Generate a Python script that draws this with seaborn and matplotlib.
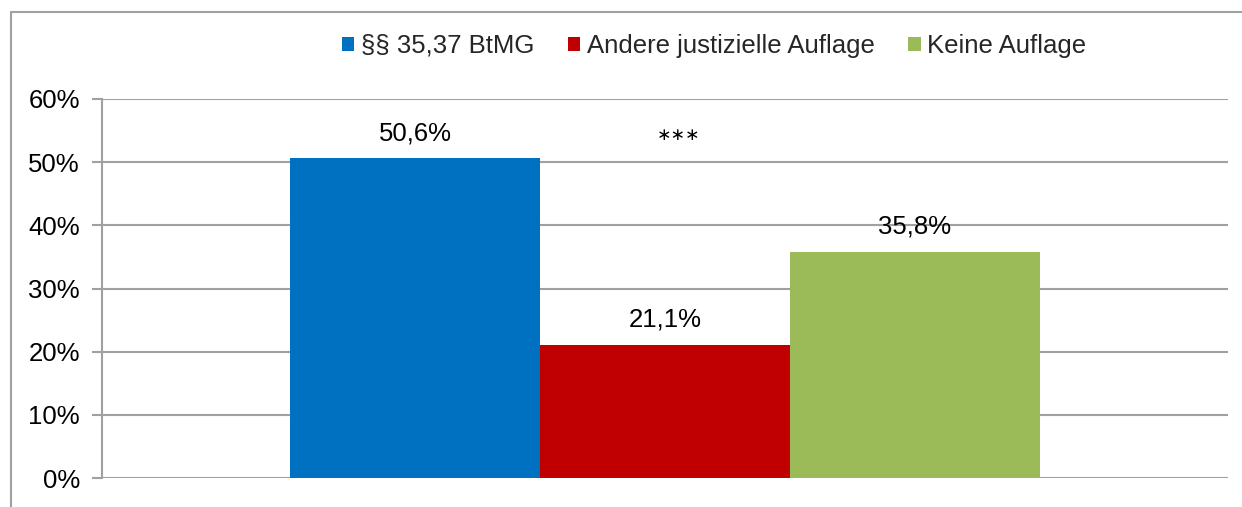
import matplotlib
matplotlib.use("Agg")
import matplotlib.pyplot as plt
import seaborn as sns
import pandas as pd
from matplotlib.lines import Line2D

series = ["§§ 35,37 BtMG", "Andere justizielle Auflage", "Keine Auflage"]
values = [50.6, 21.1, 35.8]
colors = ["#0070C0", "#C00000", "#9BBB59"]
yticks = [0, 10, 20, 30, 40, 50, 60]
signif = "∗∗∗"

sns.set_theme(style="white")
plt.rcParams['font.family'] = ['Liberation Sans', 'DejaVu Sans']

df = pd.DataFrame({"cat": ["A"] * 3, "series": series, "value": values})

fig = plt.figure(figsize=(12.42, 5.07), dpi=100)
ax = fig.add_axes([102 / 1242, 1 - 478 / 507, (1228 - 102) / 1242, (478 - 99) / 507])

sns.barplot(data=df, x="cat", y="value", hue="series", hue_order=series,
            palette=colors, width=0.666, gap=0, dodge=True, ax=ax,
            saturation=1, legend=True, errorbar=None, linewidth=0)

ax.set_xlim(-0.5, 0.5)
ax.set_ylim(0, 60)
ax.set_yticks(yticks)
ax.set_yticklabels([f"{t}%" for t in yticks], fontsize=18.5)
ax.set_xticks([])
ax.set_xlabel("")
ax.set_ylabel("")
ax.yaxis.grid(True, color="#A0A0A0", linewidth=1.5)
ax.set_axisbelow(True)
for s in ["top", "right", "bottom"]:
    ax.spines[s].set_visible(False)
ax.spines["left"].set_color("#A0A0A0")
ax.spines["left"].set_linewidth(1.5)
ax.tick_params(axis="y", which="major", length=7, width=1.5, color="#A0A0A0",
               left=True, pad=9, labelcolor="#000000")

for cont in ax.containers:
    for bar in cont:
        h = bar.get_height()
        ax.annotate(f"{h:.1f}%".replace(".", ","),
                    (bar.get_x() + bar.get_width() / 2, h),
                    xytext=(0, 18), textcoords="offset points",
                    ha="center", va="center", fontsize=18.5, color="#000000")

# significance marker above the middle bar
mid = ax.containers[1][0]
ax.annotate(signif, (mid.get_x() + mid.get_width() / 2, 50.6),
            xytext=(10, 17), textcoords="offset points",
            ha="center", va="center", fontsize=12.5, color="#000000",
            family=["DejaVu Sans"])

handles, labels = ax.get_legend_handles_labels()
ax.legend(handles, labels, loc="center", bbox_to_anchor=(714 / 1242, 1 - 46 / 507),
          bbox_transform=fig.transFigure, ncol=3, frameon=False, fontsize=18.5,
          handlelength=0.5, handleheight=0.5, handletextpad=0.25,
          columnspacing=1.3, borderaxespad=0)

# outer chart border (left and top)
fig.add_artist(Line2D([11 / 1242, 11 / 1242], [0, 1 - 12 / 507],
                      transform=fig.transFigure, color="#A0A0A0", linewidth=1.5))
fig.add_artist(Line2D([11 / 1242, 1], [1 - 12 / 507, 1 - 12 / 507],
                      transform=fig.transFigure, color="#A0A0A0", linewidth=1.5))

fig.savefig("out.png", dpi=100)
